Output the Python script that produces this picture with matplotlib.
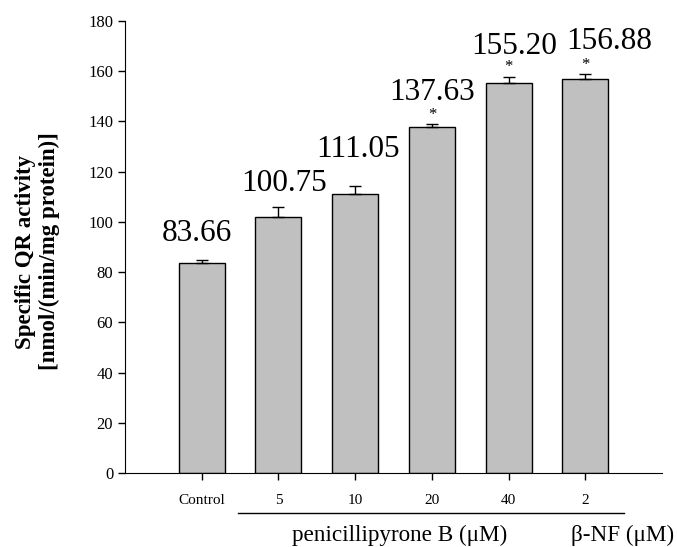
import matplotlib
matplotlib.use("Agg")
import matplotlib.pyplot as plt
import matplotlib.transforms as mtransforms

plt.rcParams["font.family"] = ["Liberation Serif", "DejaVu Serif"]

# data
categories = ["Control", "5", "10", "20", "40", "2"]
activity = [83.6, 101.8, 111.0, 137.6, 155.2, 156.8]
errors = [1.4, 4.0, 3.1, 1.3, 2.6, 2.0]
labels = ["83.66", "100.75", "111.05", "137.63", "155.20", "156.88"]
significant = [False, False, False, True, True, True]

# where each value label sits relative to its error bar top (points)
label_dx = [-3.6, 4.3, 1.8, 0, 4.0, 17.3]
label_dy = [13, 11.5, 21.5, 17.5, 16.5, 18]

fig = plt.figure(figsize=(6.77, 5.47), dpi=100)
ax = fig.add_axes([0.1846, 0.1353, 0.7934, 0.8263])

x = list(range(len(categories)))
ax.bar(x, activity, width=0.6, color="#c0c0c0", edgecolor="black", linewidth=1.0, zorder=2)
ax.errorbar(x, activity, yerr=[[0] * len(errors), errors], fmt="none",
            ecolor="black", elinewidth=1.0, capsize=4, capthick=1.0, zorder=3)

# value labels and significance stars
for xi, val, err, lab, sig, dx, dy in zip(x, activity, errors, labels, significant,
                                         label_dx, label_dy):
    top = val + err
    if sig:
        ax.annotate("*", (xi, top), xytext=(0, 1), textcoords="offset points",
                    ha="center", va="bottom", fontsize=12)
    ax.annotate(lab, (xi, top), xytext=(dx, dy), textcoords="offset points",
                ha="center", va="baseline", fontsize=22.5)

ax.set_xlim(-1, 6)
ax.set_ylim(0, 180)
ax.set_yticks(range(0, 181, 20))
ax.set_xticks(x)
ax.set_xticklabels(categories, fontsize=11)
ax.tick_params(axis="y", labelsize=12, direction="out", length=5, width=1)
ax.tick_params(axis="x", direction="out", length=5, width=1, pad=10)
ax.spines["top"].set_visible(False)
ax.spines["right"].set_visible(False)

ax.set_ylabel("Specific QR activity\n[nmol/(min/mg protein)]", fontsize=16.5,
              fontweight="bold", linespacing=1.2)
ax.yaxis.set_label_coords(-0.121, 0.49)

# group line and group labels under the axis
trans = mtransforms.blended_transform_factory(ax.transData, fig.transFigure)
ax.plot([0.47, 5.5], [0.062, 0.062], color="black", linewidth=1.0,
        transform=trans, clip_on=False)
ax.text(2.58, 0.022, "penicillipyrone B (μM)", transform=trans,
        ha="center", va="center", fontsize=16.7)
ax.text(5.49, 0.022, "β-NF (μM)", transform=trans,
        ha="center", va="center", fontsize=16.7)

fig.savefig("out.png", dpi=100)
